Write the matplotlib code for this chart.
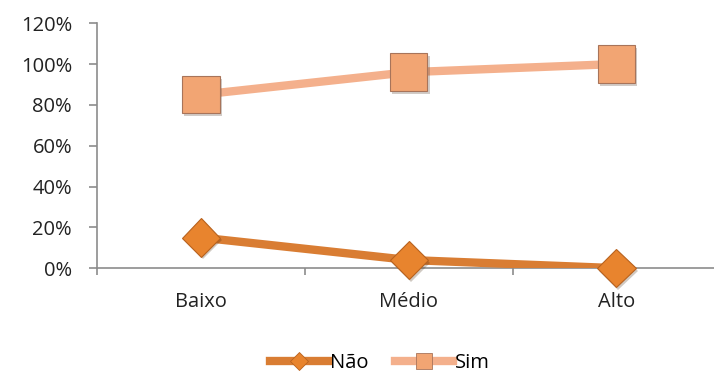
import matplotlib
matplotlib.use("Agg")
import matplotlib.pyplot as plt
from matplotlib.ticker import FixedLocator, PercentFormatter
import matplotlib.patheffects as pe

categories = ["Baixo", "Médio", "Alto"]
nao = [15, 4, 0]
sim = [85, 96, 100]
yticks = [0, 20, 40, 60, 80, 100, 120]

plt.rcParams['font.family'] = ['Open Sans', 'DejaVu Sans']

fig = plt.figure(figsize=(7.14, 3.74), dpi=100)
ax = fig.add_axes([0.136, 0.283, 0.864, 0.655])

x = list(range(len(categories)))
shadow = [pe.SimplePatchShadow(offset=(1.5, -2), alpha=0.25), pe.Normal()]

ax.plot(x, nao, color="#D97D33", lw=6, solid_capstyle="butt", zorder=2)
ax.plot(x, sim, color="#F4B08C", lw=6, solid_capstyle="butt", zorder=2)
ax.plot(x, nao, ls="none", marker="D", ms=19.5, mfc="#E8842E",
        mec="#B8621E", mew=0.8, zorder=3, path_effects=shadow, clip_on=False)
ax.plot(x, sim, ls="none", marker="s", ms=27, mfc="#F2A573",
        mec="#A8745A", mew=0.8, zorder=3, path_effects=shadow, clip_on=False)

# legend proxies
h1, = ax.plot([], [], color="#D97D33", lw=6, marker="D", ms=9,
              mfc="#E8842E", mec="#B8621E", mew=0.6)
h2, = ax.plot([], [], color="#F4B08C", lw=6, marker="s", ms=12,
              mfc="#F2A573", mec="#A8745A", mew=0.6)
fig.legend([h1, h2], ["Não", "Sim"], loc="center", bbox_to_anchor=(0.532, 0.03),
           ncol=2, frameon=False, fontsize=14.5, handlelength=2.9,
           handletextpad=0.1, columnspacing=1.3)

ax.set_xlim(-0.5, 2.47)
ax.set_ylim(0, 120)
ax.yaxis.set_major_locator(FixedLocator(yticks))
ax.yaxis.set_major_formatter(PercentFormatter(decimals=0))
ax.set_xticks(x)
ax.set_xticklabels(categories)
ax.xaxis.set_minor_locator(FixedLocator([-0.5, 0.5, 1.5]))

for s in ["top", "right"]:
    ax.spines[s].set_visible(False)
for s in ["left", "bottom"]:
    ax.spines[s].set_color("#8C8C8C")
    ax.spines[s].set_linewidth(1.2)

ax.tick_params(axis="y", length=6, width=1.2, color="#8C8C8C",
               labelsize=14.5, pad=12, labelcolor="#222222")
ax.tick_params(axis="x", which="major", length=0, labelsize=14.5, pad=17,
               labelcolor="#222222")
ax.tick_params(axis="x", which="minor", length=5, width=1.2, color="#8C8C8C")
ax.spines["bottom"].set_zorder(1)

fig.savefig("out.png", dpi=100)
